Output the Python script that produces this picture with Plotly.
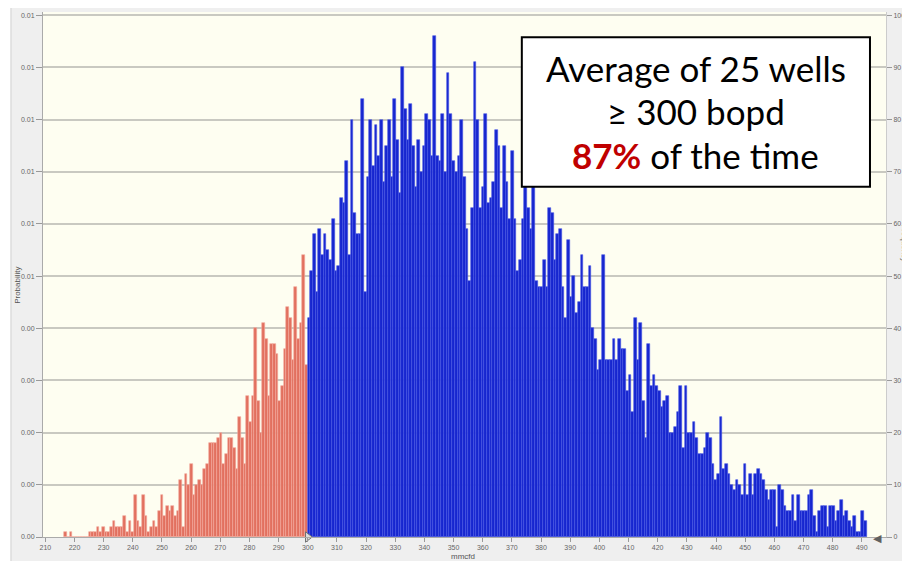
import plotly.graph_objects as go

# ---------------- data ----------------
THRESHOLD = 300          # bopd split value (red below, blue at/above)
BIN_WIDTH = 0.917        # histogram bin width (mmcfd)

# frequencies of bins below the threshold (left to right, ending at 300)
RED_COUNTS = [1, 0, 1, 0, 0, 0, 0, 0, 0,
              1, 1, 1, 2, 1, 2, 1, 1, 2, 3, 2, 2, 2, 4, 1, 3, 1, 8, 3, 2,
              8, 4, 1, 2, 3, 2, 5, 8, 4, 6, 5, 6, 4, 5, 11, 2, 12, 10, 14, 8,
              10, 11, 10, 13, 14, 18, 18, 18, 19, 20, 14, 16, 19, 19, 17, 13,
              23, 19, 14, 27, 22,
              27, 40, 26, 20, 41, 38, 27, 37, 37, 35, 26, 29, 36, 44, 42, 34,
              48, 38, 41, 54, 33]

# frequencies of bins at/above the threshold (left to right, starting at 300)
BLUE_COUNTS = [42, 51, 58, 47, 59, 54, 58, 55, 53, 61, 51, 52, 65, 64, 72, 54,
               80, 62, 58, 58, 84, 47, 69, 80, 71, 79, 73, 80, 68, 75, 80, 69,
               84, 76, 66, 90, 82, 76, 83, 75, 67, 76, 70, 75, 81, 80, 73, 96,
               73, 72, 81, 70, 89, 81, 72,
               70, 73, 80, 69, 59, 49, 63, 91, 80, 63, 67, 81, 64, 65, 68, 78,
               75, 63, 75, 68, 61, 74, 61, 51, 53, 61, 70, 63, 59, 70, 49, 48,
               48, 53, 48, 63, 62, 53, 58, 59, 48, 42, 57, 46, 50, 43, 45, 54,
               48, 48, 52, 40, 38, 32, 34, 54, 34, 34, 34, 38, 34, 38, 36, 36,
               28, 31, 24, 42, 34, 41, 26, 19, 37, 29, 31, 29, 28,
               25, 26, 27, 20, 20, 21, 24, 29, 17, 29, 20, 20, 22, 19, 16, 16,
               17, 20, 19, 14, 11, 12, 23, 13, 14, 12, 10, 9, 11, 10, 8, 14,
               8, 12, 8, 12, 13, 12, 11, 9, 7, 9, 9, 2, 10, 9, 6, 5, 5, 8,
               3, 8, 5, 5, 5, 8, 9, 4, 1, 5, 6, 6, 2, 6, 6, 3, 5, 7, 4, 5,
               3, 2, 4, 1, 1, 5, 3]

X_TICKS = list(range(210, 491, 10))
FREQ_TICKS = list(range(0, 101, 10))
PROB_TICK_LABELS = ["0.00", "0.00", "0.00", "0.00", "0.00",
                    "0.01", "0.01", "0.01", "0.01", "0.01", "0.01"]

BOX_LINES = ["Average of 25 wells", "\u2265 300 bopd"]
PCT_TEXT = "87%"
PCT_SUFFIX = " of the time"

# ---------------- derived bin centres ----------------
n_red = len(RED_COUNTS)
red_x = [THRESHOLD - (n_red - i - 0.5) * BIN_WIDTH for i in range(n_red)]
blue_x = [THRESHOLD + (i + 0.5) * BIN_WIDTH for i in range(len(BLUE_COUNTS))]

fig = go.Figure()
fig.add_trace(go.Bar(x=red_x, y=RED_COUNTS, width=BIN_WIDTH, yaxis="y2",
                     marker=dict(color="#e2705f", line=dict(color="#f3ab9d", width=0.6)),
                     showlegend=False, hoverinfo="x+y"))
fig.add_trace(go.Bar(x=blue_x, y=BLUE_COUNTS, width=BIN_WIDTH, yaxis="y2",
                     marker=dict(color="#1626cf", line=dict(color="#4656e4", width=0.6)),
                     showlegend=False, hoverinfo="x+y"))
# threshold slider marker on the baseline
fig.add_trace(go.Scatter(x=[THRESHOLD], y=[0], yaxis="y2", mode="markers",
                         marker=dict(symbol="triangle-right", size=9, color="#dcdcdc",
                                     line=dict(color="#707070", width=1)),
                         cliponaxis=False, showlegend=False, hoverinfo="skip"))
# invisible trace so the left (probability) axis is drawn
fig.add_trace(go.Scatter(x=[THRESHOLD], y=[0], yaxis="y", mode="markers",
                         marker=dict(opacity=0), showlegend=False, hoverinfo="skip"))

tick_font = dict(family="Liberation Sans, Arial, sans-serif", size=7, color="#666666")
YR = [0, 100.6]
box_font = dict(family="Lato, Open Sans, sans-serif", size=35, color="black")

# page body has an 8px margin, so the figure is 8px smaller than the window
fig.update_layout(
    width=902, height=553,
    margin=dict(l=35, r=24, t=4, b=24, autoexpand=False),
    paper_bgcolor="#efefef",
    plot_bgcolor="#fefef1",
    bargap=0,
    barmode="overlay",
    xaxis=dict(range=[209.2, 498.3], tickvals=X_TICKS, ticks="outside", ticklen=4,
               tickcolor="#999999", tickfont=tick_font, showgrid=False, automargin=False,
               showline=True, linecolor="#aaaaaa", linewidth=1, zeroline=False),
    yaxis=dict(range=YR, tickvals=FREQ_TICKS, ticktext=PROB_TICK_LABELS,
               ticks="outside", ticklen=6, tickcolor="#999999", tickfont=tick_font,
               showgrid=True, gridcolor="#c9c9c1", gridwidth=1.5, automargin=False,
               showline=True, linecolor="#aaaaaa", linewidth=1, zeroline=False),
    yaxis2=dict(range=YR, tickvals=FREQ_TICKS, overlaying="y", side="right",
                ticks="outside", ticklen=5, tickcolor="#999999", tickfont=tick_font,
                showgrid=False, showline=True, linecolor="#cccccc", linewidth=1,
                zeroline=False, automargin=False),
    shapes=[
        # white strip left of the grey panel
        dict(type="rect", xref="paper", yref="paper", x0=-0.06, x1=-0.038,
             y0=-0.1, y1=1.1, fillcolor="white", line=dict(width=0)),
        dict(type="line", xref="paper", yref="paper", x0=-0.038, x1=-0.038,
             y0=-0.1, y1=1.1, line=dict(color="#d0d0d0", width=1)),
        # annotation box
        dict(type="rect", xref="paper", yref="paper", x0=0.568, x1=0.981,
             y0=0.667, y1=0.952, fillcolor="white",
             line=dict(color="black", width=2), layer="above"),
    ],
    annotations=[
        dict(text="Probability", xref="paper", yref="paper", x=-0.031, y=0.48,
             xanchor="center", yanchor="middle",
             textangle=-90, showarrow=False, font=dict(family="Liberation Sans, Arial", size=8, color="#555555")),
        dict(text="Frequency", xref="paper", yref="paper", x=1.021, y=0.56,
             xanchor="center", yanchor="middle",
             textangle=90, showarrow=False, font=dict(family="Liberation Sans, Arial", size=8, color="#555555")),
        dict(text="mmcfd", xref="paper", yref="paper", x=0.498, y=-0.037,
             xanchor="center", yanchor="middle",
             showarrow=False, font=dict(family="Liberation Sans, Arial", size=8, color="#555555")),
        dict(text="\u25c0", xref="paper", yref="paper", x=0.99, y=0.0,
             xanchor="center", yanchor="middle",
             showarrow=False, font=dict(size=11, color="#606060")),
        dict(text=BOX_LINES[0], xref="paper", yref="paper", x=0.7746, y=0.8935,
             xanchor="center", yanchor="middle", showarrow=False, font=box_font),
        dict(text=BOX_LINES[1], xref="paper", yref="paper", x=0.7746, y=0.8116,
             xanchor="center", yanchor="middle", showarrow=False, font=box_font),
        dict(text="<b><span style='color:#c00000'>" + PCT_TEXT + "</span></b>" + PCT_SUFFIX,
             xref="paper", yref="paper", x=0.7746, y=0.7278,
             xanchor="center", yanchor="middle", showarrow=False, font=box_font),
    ],
)

fig.write_html("out.html")
